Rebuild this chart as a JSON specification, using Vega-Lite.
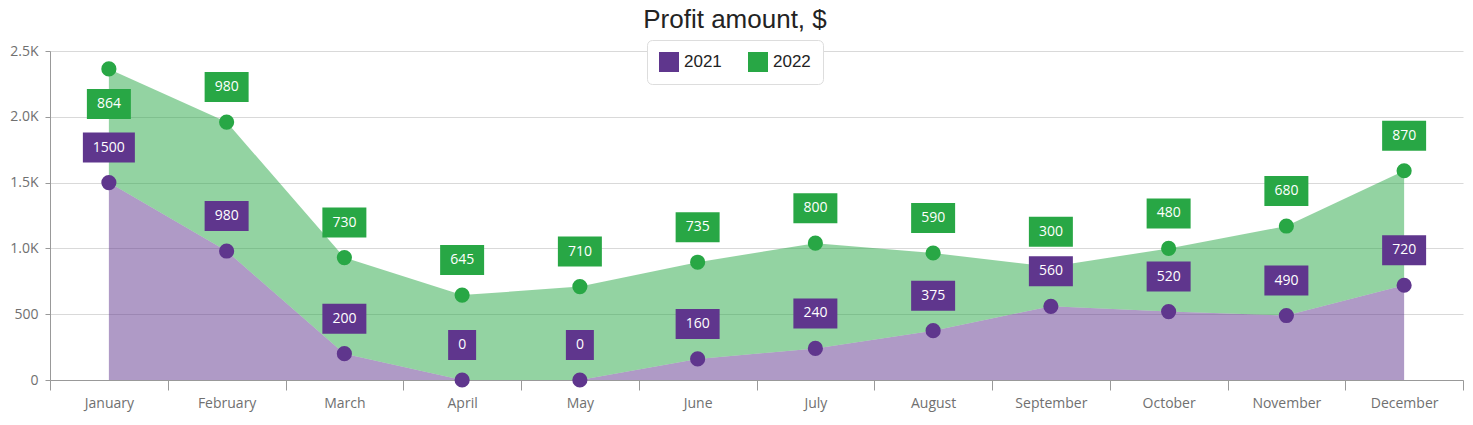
{
  "$schema": "https://vega.github.io/schema/vega-lite/v6.json",
  "width": 1413,
  "height": 329,
  "autosize": "none",
  "padding": {"left": 50, "top": 51, "right": 10, "bottom": 45},
  "background": "white",
  "title": {"text": "Profit amount, $", "fontSize": 26, "font": "Liberation Sans", "fontWeight": "normal", "color": "#232323", "offset": 6.5, "dx": -21.5, "anchor": "middle"},
  "config": {"view": {"stroke": null}},
  "data": {"values": [
    {"month": "January", "series": "2021", "value": 1500},
    {"month": "February", "series": "2021", "value": 980},
    {"month": "March", "series": "2021", "value": 200},
    {"month": "April", "series": "2021", "value": 0},
    {"month": "May", "series": "2021", "value": 0},
    {"month": "June", "series": "2021", "value": 160},
    {"month": "July", "series": "2021", "value": 240},
    {"month": "August", "series": "2021", "value": 375},
    {"month": "September", "series": "2021", "value": 560},
    {"month": "October", "series": "2021", "value": 520},
    {"month": "November", "series": "2021", "value": 490},
    {"month": "December", "series": "2021", "value": 720},
    {"month": "January", "series": "2022", "value": 864},
    {"month": "February", "series": "2022", "value": 980},
    {"month": "March", "series": "2022", "value": 730},
    {"month": "April", "series": "2022", "value": 645},
    {"month": "May", "series": "2022", "value": 710},
    {"month": "June", "series": "2022", "value": 735},
    {"month": "July", "series": "2022", "value": 800},
    {"month": "August", "series": "2022", "value": 590},
    {"month": "September", "series": "2022", "value": 300},
    {"month": "October", "series": "2022", "value": 480},
    {"month": "November", "series": "2022", "value": 680},
    {"month": "December", "series": "2022", "value": 870}
  ]},
  "transform": [
    {"stack": "value", "groupby": ["month"], "sort": [{"field": "series", "order": "ascending"}], "as": ["y0", "y1"]}
  ],
  "encoding": {
    "x": {
      "field": "month", "type": "ordinal",
      "sort": ["January", "February", "March", "April", "May", "June", "July", "August", "September", "October", "November", "December"],
      "scale": {"type": "band", "paddingInner": 0, "paddingOuter": 0},
      "bandPosition": 0.5,
      "axis": {"title": null, "labelAngle": 0, "tickBand": "extent", "tickSize": 10, "tickColor": "#999999", "domainColor": "#999999", "grid": false, "labelFont": "Open Sans", "labelFontSize": 14, "labelColor": "#707070", "labelPadding": 6}
    },
    "y": {
      "field": "y1", "type": "quantitative",
      "scale": {"domain": [0, 2500], "nice": false},
      "axis": {"title": null, "values": [0, 500, 1000, 1500, 2000, 2500], "labelExpr": "datum.value >= 1000 ? format(datum.value / 1000, '.1f') + 'K' : datum.value", "domainColor": "#999999", "tickColor": "#999999", "tickSize": 5, "gridColor": "#d9d9d9", "labelFont": "Open Sans", "labelFontSize": 14, "labelColor": "#707070", "labelPadding": 7}
    },
    "color": {
      "field": "series", "type": "nominal",
      "scale": {"domain": ["2021", "2022"], "range": ["#5f368d", "#28a745"]},
      "legend": {"title": null, "orient": "none", "legendX": 597, "legendY": -11, "direction": "horizontal", "symbolType": "square", "symbolSize": 400, "symbolOpacity": 1, "symbolStrokeWidth": 0, "labelFont": "Liberation Sans", "labelFontSize": 17, "labelColor": "#232323", "labelOffset": 5, "columnPadding": 26, "padding": 12, "fillColor": "white", "strokeColor": "#dddddd", "cornerRadius": 5}
    }
  },
  "layer": [
    {"mark": {"type": "area", "opacity": 0.5}, "encoding": {"y2": {"field": "y0"}}},
    {"mark": {"type": "point", "filled": true, "size": 230, "opacity": 1}},
    {
      "transform": [{"filter": "!(datum.month == 'January' && datum.series == '2022')"}],
      "encoding": {"yOffset": {"value": -35}},
      "layer": [
        {"mark": {"type": "point", "filled": true, "opacity": 1, "size": 2704},
         "encoding": {"shape": {"condition": [
           {"test": "length(toString(datum.value)) == 1", "value": "M-0.538,-0.577L0.538,-0.577L0.538,0.577L-0.538,0.577Z"},
           {"test": "length(toString(datum.value)) == 4", "value": "M-1,-0.577L1,-0.577L1,0.577L-1,0.577Z"}],
           "value": "M-0.846,-0.577L0.846,-0.577L0.846,0.577L-0.846,0.577Z"}}},
        {"mark": {"type": "text", "font": "Open Sans", "fontSize": 14, "baseline": "middle", "align": "center"},
         "encoding": {"text": {"field": "value"}, "color": {"value": "white"}}}
      ]
    },
    {
      "transform": [{"filter": "datum.month == 'January' && datum.series == '2022'"}],
      "encoding": {"yOffset": {"value": 35}},
      "layer": [
        {"mark": {"type": "point", "filled": true, "opacity": 1, "size": 2704},
         "encoding": {"shape": {"value": "M-0.846,-0.577L0.846,-0.577L0.846,0.577L-0.846,0.577Z"}}},
        {"mark": {"type": "text", "font": "Open Sans", "fontSize": 14, "baseline": "middle", "align": "center"},
         "encoding": {"text": {"field": "value"}, "color": {"value": "white"}}}
      ]
    }
  ]
}
